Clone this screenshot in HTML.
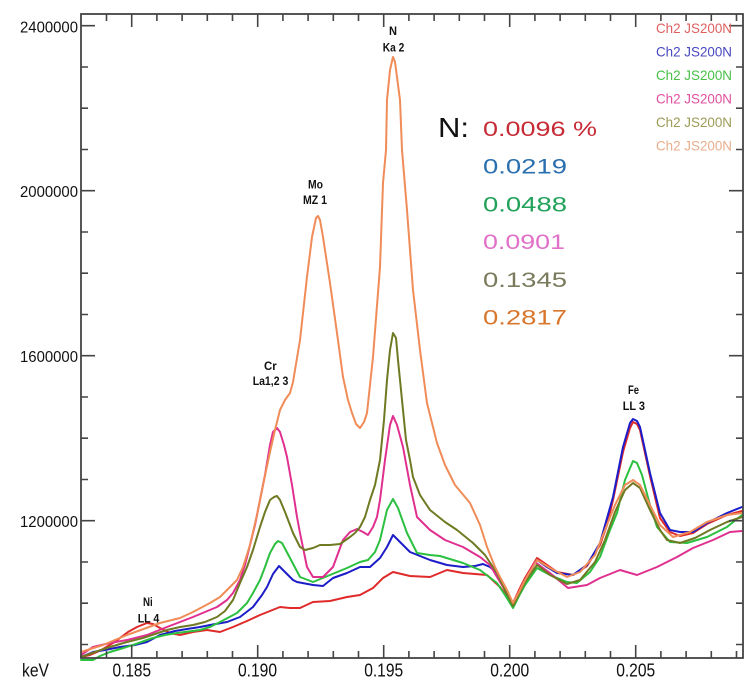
<!DOCTYPE html>
<html><head><meta charset="utf-8"><style>
html,body{margin:0;padding:0;background:#fff;}
svg{display:block;}
.ax{font-family:"Liberation Sans",Arial,sans-serif;fill:#111;}
.pk{font-family:"Liberation Sans",Arial,sans-serif;font-weight:bold;fill:#111;font-size:12px;}
.lg{font-family:"Liberation Sans",Arial,sans-serif;font-size:14px;}
.nv{font-family:"Liberation Sans",Arial,sans-serif;font-size:21px;}
polyline{fill:none;stroke-width:2;stroke-linejoin:round;stroke-linecap:round;}
</style></head><body>
<svg width="753" height="699" viewBox="0 0 753 699" xmlns="http://www.w3.org/2000/svg">
<rect width="753" height="699" fill="#fff"/>

<!-- curves -->
<polyline stroke="#e02a2a" points="81,657 90,655 97,652 103,649 113,643 120,638 128,632 137,627 147,623 153,624 160,628 170,633 180,635 193,632 207,630 220,632 233,627 247,621 260,615 270,611 280,607 290,608 300,608 313,602 330,601 347,597 360,595 373,588 383,578 393,572 410,576 430,577 447,570 463,573 487,575 500,587 508,597 513,603 519,590 525,578 537,558 547,565 557,572 573,575 587,566 600,545 607,525 613,500 623,452 630,428 633,422 637,424 640,430 650,476 660,518 670,532 680,536 693,533 707,524 727,515 742,511"/>
<polyline stroke="#1c1cc8" points="81,657 93,652 105,650 120,647 135,645 147,642 160,635 175,631 187,629 200,627 210,625 227,622 240,617 253,607 262,595 267,587 273,574 279,566 285,572 293,580 297,582 313,585 323,586 333,578 347,573 360,567 370,567 380,558 387,547 393,535 400,542 410,552 430,560 447,565 463,567 475,566 483,564 490,567 497,573 505,590 513,607 519,594 525,580 537,560 547,567 557,573 573,575 587,565 600,543 613,497 623,447 630,423 633,419 637,421 640,427 650,473 660,513 670,530 680,532 693,532 707,523 727,513 742,507"/>
<polyline stroke="#2cc040" points="81,660 93,660 100,656 110,652 120,649 133,645 147,640 153,638 165,635 177,633 200,630 210,627 220,622 237,613 247,603 253,593 260,580 265,567 270,553 275,544 278,541 282,543 290,558 300,577 313,582 330,575 347,568 360,562 368,560 375,552 380,540 387,510 393,499 398,508 407,533 417,553 430,555 440,556 463,563 480,570 497,583 505,595 513,608 519,596 525,585 537,568 550,575 567,582 577,583 590,572 600,557 610,530 617,513 625,480 633,461 637,463 642,475 650,505 657,527 670,542 687,543 707,537 727,527 742,515"/>
<polyline stroke="#e0308f" points="81,655 93,647 110,643 127,640 147,635 167,627 180,622 193,617 205,612 217,607 227,600 233,593 240,580 245,565 250,545 255,525 260,500 265,475 270,445 273,432 277,428 280,432 284,445 287,457 292,485 297,517 300,533 307,567 313,577 323,577 333,567 343,540 350,532 357,529 363,532 368,535 373,527 377,517 380,500 385,460 390,425 393,416 397,425 403,447 410,485 417,517 430,530 445,540 463,547 480,557 490,565 497,577 505,590 513,603 519,592 525,580 535,562 550,573 568,588 587,585 600,578 620,570 637,575 657,567 677,557 693,548 713,540 730,532 742,531"/>
<polyline stroke="#6f7a22" points="81,657 95,652 110,647 127,642 143,638 155,634 167,630 180,627 193,625 205,622 217,617 225,611 233,600 240,583 247,567 253,550 260,527 265,512 270,500 274,497 277,496 280,500 285,512 290,525 293,533 300,547 305,550 313,548 320,545 330,545 340,544 350,537 355,533 360,527 365,517 370,500 375,485 380,460 384,420 387,380 390,350 393,333 396,338 398,360 402,400 406,440 410,460 413,477 420,495 430,510 445,522 457,530 473,543 485,555 497,573 505,590 513,606 519,594 525,582 537,565 550,575 567,584 580,580 595,562 605,540 615,512 625,490 633,483 640,488 650,510 660,530 667,540 680,543 695,538 710,530 727,522 742,517"/>
<polyline stroke="#f08c58" points="81,652 103,645 127,635 160,623 180,618 193,612 210,603 220,597 227,590 237,580 243,567 250,545 257,515 263,485 270,452 275,430 280,410 285,400 290,393 293,382 300,340 307,277 312,237 316,218 318,216 320,220 323,237 330,283 337,333 343,377 348,400 352,413 356,424 360,428 364,422 367,413 373,357 380,267 383,183 386,150 387,100 390,70 393,57 395,62 400,100 402,150 407,210 413,290 420,350 427,403 437,443 445,465 455,485 470,503 480,525 487,547 495,567 500,577 507,590 513,603 519,592 525,580 537,560 550,568 567,577 580,572 595,555 605,530 615,505 625,485 633,480 640,485 650,505 660,525 673,537 690,532 707,522 727,515 742,513"/>

<!-- frame -->
<rect x="81" y="14" width="662" height="644" fill="none" stroke="#444" stroke-width="1.8"/>
<g stroke="#444" stroke-width="1.6">
<path d="M81,25.7H95M81,190.7H95M81,355.7H95M81,520.7H95M743,25.7H729M743,190.7H729M743,355.7H729M743,520.7H729"/>
<path d="M81,67H88M81,108.2H88M81,149.5H88M81,232H88M81,273.2H88M81,314.5H88M81,397H88M81,438.2H88M81,479.5H88M81,562H88M81,603.2H88M81,644.5H88
M743,67H736M743,108.2H736M743,149.5H736M743,232H736M743,273.2H736M743,314.5H736M743,397H736M743,438.2H736M743,479.5H736M743,562H736M743,603.2H736M743,644.5H736"/>
<path d="M106.5,658V651M131.7,658V645M156.9,658V651M182.1,658V651M207.3,658V651M232.5,658V651M257.7,658V645M282.9,658V651M308.1,658V651M333.3,658V651M358.5,658V651M383.7,658V645M408.9,658V651M434.1,658V651M459.3,658V651M484.5,658V651M509.7,658V645M534.9,658V651M560.1,658V651M585.3,658V651M610.5,658V651M635.7,658V645M660.9,658V651M686.1,658V651M711.3,658V651M736.5,658V651
M106.5,14V21M131.7,14V27M156.9,14V21M182.1,14V21M207.3,14V21M232.5,14V21M257.7,14V27M282.9,14V21M308.1,14V21M333.3,14V21M358.5,14V21M383.7,14V27M408.9,14V21M434.1,14V21M459.3,14V21M484.5,14V21M509.7,14V27M534.9,14V21M560.1,14V21M585.3,14V21M610.5,14V21M635.7,14V27M660.9,14V21M686.1,14V21M711.3,14V21M736.5,14V21"/>
</g>

<!-- y labels -->
<g class="ax" font-size="16">
<text x="20" y="32.3" textLength="58" lengthAdjust="spacingAndGlyphs">2400000</text>
<text x="20" y="197" textLength="58" lengthAdjust="spacingAndGlyphs">2000000</text>
<text x="20" y="362" textLength="58" lengthAdjust="spacingAndGlyphs">1600000</text>
<text x="20" y="527" textLength="58" lengthAdjust="spacingAndGlyphs">1200000</text>
</g>
<!-- x labels -->
<g class="ax" font-size="18">
<text x="112.5" y="676.5" textLength="38.5" lengthAdjust="spacingAndGlyphs">0.185</text>
<text x="238" y="676.5" textLength="39" lengthAdjust="spacingAndGlyphs">0.190</text>
<text x="364.2" y="676.5" textLength="39" lengthAdjust="spacingAndGlyphs">0.195</text>
<text x="490.2" y="676.5" textLength="39" lengthAdjust="spacingAndGlyphs">0.200</text>
<text x="616.2" y="676.5" textLength="39" lengthAdjust="spacingAndGlyphs">0.205</text>
<text x="22" y="676.5" textLength="27" lengthAdjust="spacingAndGlyphs">keV</text>
</g>

<!-- peak labels -->
<g class="pk">
<text x="389" y="35" textLength="8" lengthAdjust="spacingAndGlyphs">N</text>
<text x="382.7" y="51.7" textLength="21.6" lengthAdjust="spacingAndGlyphs">Ka 2</text>
<text x="308" y="188.5" textLength="15" lengthAdjust="spacingAndGlyphs">Mo</text>
<text x="303" y="204" textLength="24" lengthAdjust="spacingAndGlyphs">MZ 1</text>
<text x="264" y="370" textLength="12.7" lengthAdjust="spacingAndGlyphs">Cr</text>
<text x="252.7" y="385" textLength="35.6" lengthAdjust="spacingAndGlyphs">La1,2 3</text>
<text x="628" y="394" textLength="11" lengthAdjust="spacingAndGlyphs">Fe</text>
<text x="622.7" y="410" textLength="22.3" lengthAdjust="spacingAndGlyphs">LL 3</text>
<text x="143" y="606" textLength="9.7" lengthAdjust="spacingAndGlyphs">Ni</text>
<text x="137.7" y="622.5" textLength="21.6" lengthAdjust="spacingAndGlyphs">LL 4</text>
</g>

<!-- legend -->
<g class="lg">
<text x="656" y="33" fill="#e06060" textLength="76" lengthAdjust="spacingAndGlyphs">Ch2 JS200N</text>
<text x="656" y="56.5" fill="#4848c0" textLength="76" lengthAdjust="spacingAndGlyphs">Ch2 JS200N</text>
<text x="656" y="80" fill="#48c048" textLength="76" lengthAdjust="spacingAndGlyphs">Ch2 JS200N</text>
<text x="656" y="103.5" fill="#e050a0" textLength="76" lengthAdjust="spacingAndGlyphs">Ch2 JS200N</text>
<text x="656" y="127" fill="#9c9c58" textLength="76" lengthAdjust="spacingAndGlyphs">Ch2 JS200N</text>
<text x="656" y="150.5" fill="#e8ae8c" textLength="76" lengthAdjust="spacingAndGlyphs">Ch2 JS200N</text>
</g>

<!-- N annotation -->
<text x="438" y="137" font-family="Liberation Sans, Arial, sans-serif" font-size="28" fill="#111" textLength="31" lengthAdjust="spacingAndGlyphs">N:</text>
<g class="nv">
<text x="483" y="136" fill="#c62b36" textLength="114" lengthAdjust="spacingAndGlyphs">0.0096 %</text>
<text x="483" y="173.7" fill="#2a6fae" textLength="84" lengthAdjust="spacingAndGlyphs">0.0219</text>
<text x="483" y="211.4" fill="#22a15a" textLength="84" lengthAdjust="spacingAndGlyphs">0.0488</text>
<text x="483" y="249" fill="#e070c8" textLength="82" lengthAdjust="spacingAndGlyphs">0.0901</text>
<text x="483" y="286.8" fill="#7a7a5c" textLength="84" lengthAdjust="spacingAndGlyphs">0.1345</text>
<text x="483" y="324.5" fill="#d8772e" textLength="84" lengthAdjust="spacingAndGlyphs">0.2817</text>
</g>
</svg>
</body></html>
